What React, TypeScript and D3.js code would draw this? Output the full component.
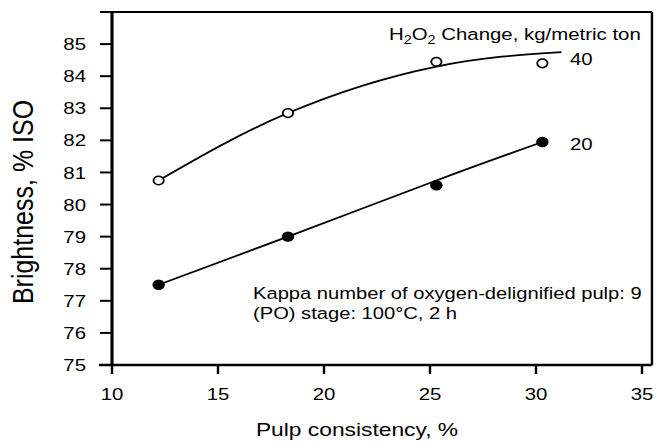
import React from "react";
import * as d3 from "d3";

// ---- data ----
const consistency = [12.2, 18.3, 25.3, 30.3];
const brightness40 = [80.75, 82.85, 84.45, 84.4];
const brightness20 = [77.5, 79.0, 80.6, 81.95];
// fitted curves
const fit40X = [12.2, 18.3, 25.3, 31.2];
const fit40Y = [80.75, 82.85, 84.3, 84.75];
const fit20X = [12.2, 18.3, 25.3, 30.3];
const fit20Y = [77.5, 79.0, 80.75, 81.95];
const xTicks = [10, 15, 20, 25, 30, 35];
const yTicks = [75, 76, 77, 78, 79, 80, 81, 82, 83, 84, 85];
const seriesLabels = ["40", "20"];

const S = 1.2; // horizontal stretch of the reference
const W = 662;
const H = 443;
const FONT = "'Liberation Sans', Arial, Helvetica, sans-serif";

export default function App() {
  const x = d3.scaleLinear().domain([10, 35]).range([112 / S, 642 / S]);
  const y = d3.scaleLinear().domain([75, 86]).range([365, 12]);
  const xMax = 35.47;
  const yMax = 86;

  const line = d3
    .line<[number, number]>()
    .x((d) => x(d[0]))
    .y((d) => y(d[1]))
    .curve(d3.curveNatural);

  const fit40 = fit40X.map((v, i) => [v, fit40Y[i]] as [number, number]);
  const fit20 = fit20X.map((v, i) => [v, fit20Y[i]] as [number, number]);

  const tickLen = 12 / S;

  return (
    <svg
      width={W}
      height={H}
      viewBox={`0 0 ${W / S} ${H}`}
      preserveAspectRatio="none"
      style={{ position: "absolute", left: 0, top: 0, background: "#fff" }}
      fontFamily={FONT}
    >
      <rect x={0} y={0} width={W / S} height={H} fill="#fff" />
      {/* frame */}
      <line x1={x(10)} x2={x(10)} y1={y(yMax)} y2={y(75)} stroke="#000" strokeWidth={2.6} />
      <line x1={x(10) - tickLen - 1} x2={x(xMax)} y1={y(75)} y2={y(75)} stroke="#000" strokeWidth={2.6} />
      <line x1={x(10) - tickLen} x2={x(xMax)} y1={y(yMax)} y2={y(yMax)} stroke="#000" strokeWidth={2} />
      <line x1={x(xMax)} x2={x(xMax)} y1={y(yMax)} y2={y(75)} stroke="#000" strokeWidth={2} />

      {/* y ticks */}
      {yTicks.map((t) => (
        <g key={"y" + t}>
          <line x1={x(10) - tickLen} x2={x(10)} y1={y(t)} y2={y(t)} stroke="#000" strokeWidth={2} />
          <text x={86 / S} y={y(t)} dy="0.36em" textAnchor="end" fontSize={17} fill="#000">
            {t}
          </text>
        </g>
      ))}
      {/* x ticks */}
      {xTicks.map((t) => (
        <g key={"x" + t}>
          <line x1={x(t)} x2={x(t)} y1={y(75)} y2={y(75) + 9} stroke="#000" strokeWidth={2} />
          <text x={x(t)} y={400} textAnchor="middle" fontSize={17} fill="#000">
            {t}
          </text>
        </g>
      ))}

      {/* axis titles */}
      <text x={357 / S} y={436} textAnchor="middle" fontSize={19} fill="#000">
        Pulp consistency, %
      </text>
      <text
        transform={`translate(${33 / S},${202}) rotate(-90)`}
        textAnchor="middle"
        fontSize={25}
        fill="#000"
      >
        Brightness, % ISO
      </text>

      {/* curves */}
      <path d={line(fit40) || ""} fill="none" stroke="#000" strokeWidth={1.7} />
      <path d={line(fit20) || ""} fill="none" stroke="#000" strokeWidth={1.7} />

      {/* markers */}
      {consistency.map((c, i) => (
        <circle key={"o" + i} cx={x(c)} cy={y(brightness40[i])} r={4.3} fill="#fff" stroke="#000" strokeWidth={1.5} />
      ))}
      {consistency.map((c, i) => (
        <circle key={"f" + i} cx={x(c)} cy={y(brightness20[i])} r={5.2} fill="#000" />
      ))}

      {/* series labels */}
      <text x={570 / S} y={65} fontSize={17} fill="#000">
        {seriesLabels[0]}
      </text>
      <text x={570 / S} y={150} fontSize={17} fill="#000">
        {seriesLabels[1]}
      </text>

      {/* legend title */}
      <text x={389 / S} y={40} fontSize={17} fill="#000">
        H<tspan fontSize={12} dy={4}>2</tspan>
        <tspan dy={-4}>O</tspan>
        <tspan fontSize={12} dy={4}>2</tspan>
        <tspan dy={-4}> Change, kg/metric ton</tspan>
      </text>

      {/* annotation */}
      <text x={253 / S} y={299} fontSize={16.8} fill="#000">
        Kappa number of oxygen-delignified pulp: 9
      </text>
      <text x={253 / S} y={319} fontSize={16.8} fill="#000">
        (PO) stage: 100°C, 2 h
      </text>
    </svg>
  );
}
